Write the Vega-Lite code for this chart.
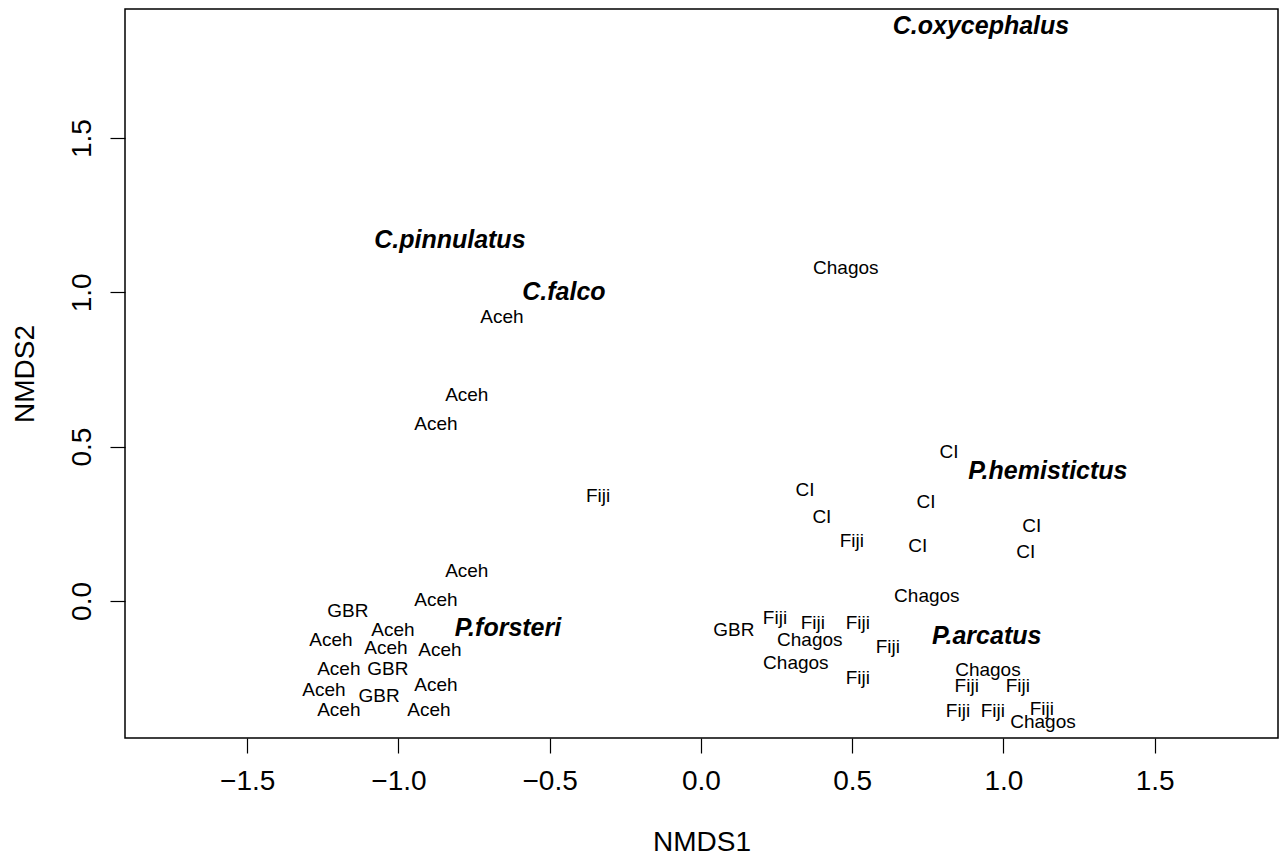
{
  "$schema": "https://vega.github.io/schema/vega-lite/v6.json",
  "width": 1153,
  "height": 729,
  "autosize": {"type": "none"},
  "padding": {"left": 125, "top": 9, "right": 2, "bottom": 118},
  "background": "white",
  "config": {
    "view": {"stroke": "black", "strokeWidth": 1.5},
    "font": "Liberation Sans"
  },
  "data": {
    "values": [
      {"x": 0.479, "y": 1.079, "label": "Chagos", "kind": "site"},
      {"x": -0.658, "y": 0.920, "label": "Aceh", "kind": "site"},
      {"x": -0.774, "y": 0.667, "label": "Aceh", "kind": "site"},
      {"x": -0.876, "y": 0.573, "label": "Aceh", "kind": "site"},
      {"x": -0.340, "y": 0.340, "label": "Fiji", "kind": "site"},
      {"x": -0.774, "y": 0.097, "label": "Aceh", "kind": "site"},
      {"x": -0.876, "y": 0.003, "label": "Aceh", "kind": "site"},
      {"x": -1.167, "y": -0.032, "label": "GBR", "kind": "site"},
      {"x": -1.018, "y": -0.094, "label": "Aceh", "kind": "site"},
      {"x": -1.223, "y": -0.126, "label": "Aceh", "kind": "site"},
      {"x": -1.041, "y": -0.152, "label": "Aceh", "kind": "site"},
      {"x": -0.863, "y": -0.159, "label": "Aceh", "kind": "site"},
      {"x": -1.197, "y": -0.220, "label": "Aceh", "kind": "site"},
      {"x": -1.035, "y": -0.220, "label": "GBR", "kind": "site"},
      {"x": -0.876, "y": -0.272, "label": "Aceh", "kind": "site"},
      {"x": -1.246, "y": -0.288, "label": "Aceh", "kind": "site"},
      {"x": -1.064, "y": -0.308, "label": "GBR", "kind": "site"},
      {"x": -1.197, "y": -0.353, "label": "Aceh", "kind": "site"},
      {"x": -0.899, "y": -0.353, "label": "Aceh", "kind": "site"},
      {"x": 0.820, "y": 0.483, "label": "CI", "kind": "site"},
      {"x": 0.344, "y": 0.360, "label": "CI", "kind": "site"},
      {"x": 0.744, "y": 0.321, "label": "CI", "kind": "site"},
      {"x": 0.400, "y": 0.272, "label": "CI", "kind": "site"},
      {"x": 0.499, "y": 0.194, "label": "Fiji", "kind": "site"},
      {"x": 0.717, "y": 0.178, "label": "CI", "kind": "site"},
      {"x": 1.094, "y": 0.243, "label": "CI", "kind": "site"},
      {"x": 1.074, "y": 0.159, "label": "CI", "kind": "site"},
      {"x": 0.747, "y": 0.016, "label": "Chagos", "kind": "site"},
      {"x": 0.109, "y": -0.094, "label": "GBR", "kind": "site"},
      {"x": 0.245, "y": -0.055, "label": "Fiji", "kind": "site"},
      {"x": 0.370, "y": -0.071, "label": "Fiji", "kind": "site"},
      {"x": 0.519, "y": -0.071, "label": "Fiji", "kind": "site"},
      {"x": 0.360, "y": -0.126, "label": "Chagos", "kind": "site"},
      {"x": 0.618, "y": -0.149, "label": "Fiji", "kind": "site"},
      {"x": 0.314, "y": -0.201, "label": "Chagos", "kind": "site"},
      {"x": 0.519, "y": -0.249, "label": "Fiji", "kind": "site"},
      {"x": 0.949, "y": -0.224, "label": "Chagos", "kind": "site"},
      {"x": 0.879, "y": -0.275, "label": "Fiji", "kind": "site"},
      {"x": 1.048, "y": -0.275, "label": "Fiji", "kind": "site"},
      {"x": 0.850, "y": -0.356, "label": "Fiji", "kind": "site"},
      {"x": 0.965, "y": -0.356, "label": "Fiji", "kind": "site"},
      {"x": 1.127, "y": -0.350, "label": "Fiji", "kind": "site"},
      {"x": 1.131, "y": -0.392, "label": "Chagos", "kind": "site"},
      {"x": 0.926, "y": 1.863, "label": "C.oxycephalus", "kind": "species"},
      {"x": -0.830, "y": 1.169, "label": "C.pinnulatus", "kind": "species"},
      {"x": -0.453, "y": 1.001, "label": "C.falco", "kind": "species"},
      {"x": 1.147, "y": 0.421, "label": "P.hemistictus", "kind": "species"},
      {"x": -0.638, "y": -0.087, "label": "P.forsteri", "kind": "species"},
      {"x": 0.945, "y": -0.113, "label": "P.arcatus", "kind": "species"}
    ]
  },
  "encoding": {
    "x": {
      "field": "x",
      "type": "quantitative",
      "scale": {"domain": [-1.904, 1.908], "nice": false, "zero": false},
      "axis": {
        "title": "NMDS1",
        "values": [-1.5, -1.0, -0.5, 0.0, 0.5, 1.0, 1.5],
        "format": ".1f",
        "grid": false,
        "domain": false,
        "ticks": true,
        "tickSize": 15,
        "tickColor": "black",
        "tickWidth": 1.2,
        "labelFontSize": 28,
        "labelColor": "black",
        "labelBaseline": "alphabetic",
        "labelPadding": 36,
        "labelFont": "Liberation Sans",
        "titleFont": "Liberation Sans",
        "titleFontSize": 28,
        "titleFontWeight": "normal",
        "titleColor": "black",
        "titleBaseline": "alphabetic",
        "titleY": 112,
        "labelFlush": false,
        "labelOverlap": false
      }
    },
    "y": {
      "field": "y",
      "type": "quantitative",
      "scale": {"domain": [-0.444, 1.918], "nice": false, "zero": false},
      "axis": {
        "title": "NMDS2",
        "values": [0.0, 0.5, 1.0, 1.5],
        "format": ".1f",
        "grid": false,
        "domain": false,
        "ticks": true,
        "tickSize": 15,
        "tickColor": "black",
        "tickWidth": 1.2,
        "labelFontSize": 28,
        "labelColor": "black",
        "labelAngle": -90,
        "labelAlign": "center",
        "labelBaseline": "alphabetic",
        "labelPadding": 20,
        "labelFont": "Liberation Sans",
        "titleFont": "Liberation Sans",
        "titleFontSize": 28,
        "titleFontWeight": "normal",
        "titleColor": "black",
        "titleAngle": -90,
        "titleBaseline": "alphabetic",
        "titleX": -92,
        "labelFlush": false,
        "labelOverlap": false
      }
    },
    "text": {"field": "label", "type": "nominal"}
  },
  "layer": [
    {
      "transform": [{"filter": "datum.kind === 'site'"}],
      "mark": {"type": "text", "fontSize": 19, "font": "Liberation Sans", "color": "black", "align": "center", "baseline": "middle"}
    },
    {
      "transform": [{"filter": "datum.kind === 'species'"}],
      "mark": {"type": "text", "fontSize": 25, "font": "Liberation Sans", "fontWeight": "bold", "fontStyle": "italic", "color": "black", "align": "center", "baseline": "middle"}
    }
  ]
}
